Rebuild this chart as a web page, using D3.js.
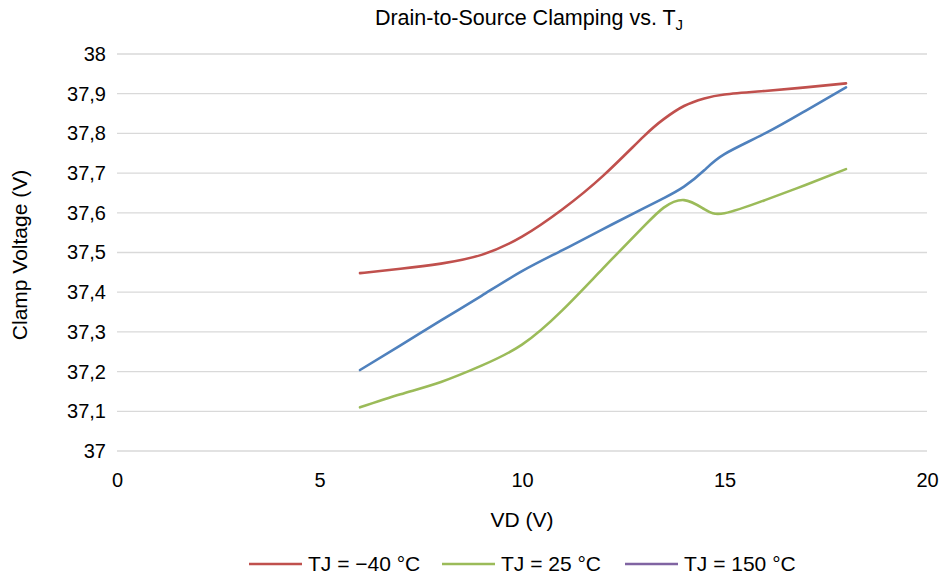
<!DOCTYPE html>
<html>
<head>
<meta charset="utf-8">
<script src="https://cdn.jsdelivr.net/npm/d3@7"></script>
<style>
  html, body { margin: 0; padding: 0; background: #fff; }
  svg { display: block; font-family: "Liberation Sans", Arial, Helvetica, sans-serif; }
</style>
</head>
<body>
<svg id="chart" width="942" height="580"></svg>
<script>
// Drain voltage samples (V)
const vd = [6, 7, 8, 9, 10, 11, 12, 13, 13.5, 14, 14.5, 15, 16, 17, 18];

// Clamp voltage (V) per junction temperature
const tjMinus40 = [37.448, 37.459, 37.472, 37.494, 37.540, 37.609, 37.693, 37.792, 37.836, 37.869, 37.888, 37.898, 37.907, 37.916, 37.926];
const tj25      = [37.110, 37.143, 37.174, 37.215, 37.268, 37.355, 37.460, 37.565, 37.613, 37.632, 37.609, 37.599, 37.632, 37.670, 37.710];
const tjBlue    = [37.204, 37.266, 37.329, 37.391, 37.453, 37.506, 37.559, 37.611, 37.637, 37.666, 37.707, 37.748, 37.800, 37.857, 37.916];

const seriesNames  = ["TJ = \u221240 \u00B0C", "TJ = 25 \u00B0C", "TJ = 150 \u00B0C"];
const seriesColors = ["#C0504D", "#9BBB59", "#8064A2"];

const xTicks = [0, 5, 10, 15, 20];
const yTicks = [37, 37.1, 37.2, 37.3, 37.4, 37.5, 37.6, 37.7, 37.8, 37.9, 38];

const svg = d3.select("#chart");
const textColor = "#000";

const x = d3.scaleLinear().domain([0, 20]).range([117, 927]);
const y = d3.scaleLinear().domain([37, 38]).range([451, 54]);

const locale = d3.formatLocale({ decimal: ",", thousands: ".", grouping: [3], currency: ["", ""] });
const fmt = locale.format(".1~f");

// horizontal gridlines
svg.append("g")
  .selectAll("line")
  .data(yTicks)
  .join("line")
  .attr("x1", x(0)).attr("x2", x(20))
  .attr("y1", d => y(d)).attr("y2", d => y(d))
  .attr("stroke", "#D9D9D9")
  .attr("stroke-width", 1.3);

// y axis labels
const yAxis = d3.axisLeft(y).tickValues(yTicks).tickFormat(fmt).tickSize(0).tickPadding(11);
const gy = svg.append("g").attr("transform", `translate(${x(0)},0)`).call(yAxis);
gy.select(".domain").remove();
gy.selectAll("text").attr("font-size", 20).attr("fill", textColor).attr("font-family", null);

// x axis labels
const xAxis = d3.axisBottom(x).tickValues(xTicks).tickFormat(d3.format("d")).tickSize(0).tickPadding(22);
const gx = svg.append("g").attr("transform", `translate(0,${y(37)})`).call(xAxis);
gx.select(".domain").remove();
gx.selectAll("text").attr("font-size", 20).attr("fill", textColor).attr("font-family", null);

// series lines
const line = d3.line()
  .x((d, i) => x(vd[i]))
  .y(d => y(d))
  .curve(d3.curveNatural);

const drawn = [
  { values: tjMinus40, color: "#C0504D" },
  { values: tj25, color: "#9BBB59" },
  { values: tjBlue, color: "#4F81BD" }
];

svg.append("g")
  .selectAll("path")
  .data(drawn)
  .join("path")
  .attr("d", d => line(d.values))
  .attr("fill", "none")
  .attr("stroke", d => d.color)
  .attr("stroke-width", 2.6)
  .attr("stroke-linecap", "round")
  .attr("stroke-linejoin", "round");

// title
const title = svg.append("text")
  .attr("x", 529).attr("y", 25)
  .attr("text-anchor", "middle")
  .attr("font-size", 21.5)
  .attr("fill", textColor)
  .text("Drain-to-Source Clamping vs. T");
title.append("tspan").attr("font-size", 15).attr("dy", 5).text("J");

// axis titles
svg.append("text")
  .attr("x", 522).attr("y", 527)
  .attr("text-anchor", "middle")
  .attr("font-size", 21)
  .attr("fill", textColor)
  .text("VD (V)");

svg.append("text")
  .attr("transform", "translate(27,255) rotate(-90)")
  .attr("text-anchor", "middle")
  .attr("font-size", 21)
  .attr("fill", textColor)
  .text("Clamp Voltage (V)");

// legend
const legendX = [249, 442, 625];
const lg = svg.append("g")
  .selectAll("g")
  .data(seriesNames)
  .join("g")
  .attr("transform", (d, i) => `translate(${legendX[i]},564)`);
lg.append("line")
  .attr("x1", 0).attr("x2", 53)
  .attr("stroke", (d, i) => seriesColors[i])
  .attr("stroke-width", 2.6);
lg.append("text")
  .attr("x", 59).attr("dy", "0.35em")
  .attr("font-size", 21)
  .attr("fill", textColor)
  .text(d => d);
</script>
</body>
</html>
